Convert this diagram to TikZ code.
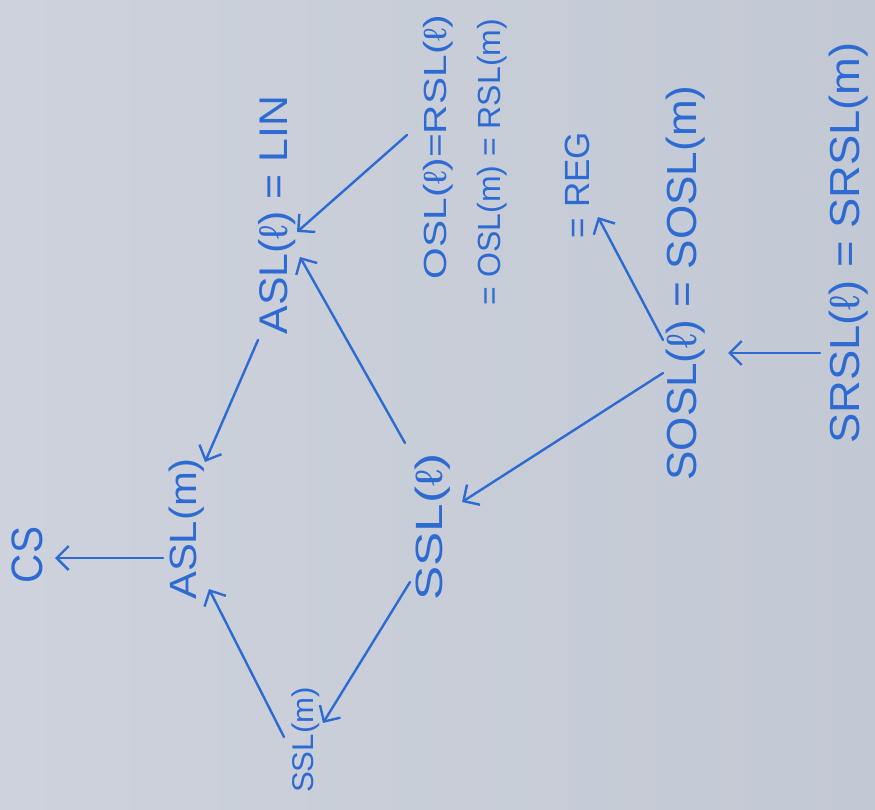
\documentclass[tikz,border=0pt]{standalone}
\usepackage{fontspec}
\setmainfont{Liberation Sans}
\usetikzlibrary{arrows.meta}
\definecolor{paper}{HTML}{CDD2DC}
\definecolor{paperdark}{HTML}{C3C9D4}
\definecolor{ink}{HTML}{2D6BD2}

\begin{document}
\begin{tikzpicture}[
    x=1pt, y=-1pt,
    hand/.style 2 args={rotate=90, inner sep=0pt, text=ink,
                 font=\fontsize{#1}{#1}\selectfont\addfontfeatures{FakeStretch=#2}},
    arr/.style={-{Straight Barb[length=12pt, width=24pt]}, ink,
                line width=2.4pt, line cap=round}
]
    % paper
    \path[use as bounding box] (0,0) rectangle (875,809);
    \shade[left color=paper, right color=paperdark] (0,0) rectangle (875,809);

    \node[hand={44}{0.92}] (cs)   at (27,555)  {CS};
    \node[hand={38}{1.1}]  (aslm) at (187,529) {ASL(m)};
    \node[hand={30}{1.04}] (sslm) at (306,740) {SSL(m)};
    \node[hand={38}{1.35}] (ssll) at (433,527) {SSL(ℓ)};
    \node[hand={40}{1.07}] (asll) at (277,215) {ASL(ℓ) = LIN};
    \node[hand={32}{1.27}] (osla) at (438,147) {OSL(ℓ)=RSL(ℓ)};
    \node[hand={32}{1.0}]  (oslb) at (492,162) {= OSL(m) = RSL(m)};
    \node[hand={35}{1.0}]  (reg)  at (577,185) {= REG};
    \node[hand={42}{1.05}] (sosl) at (686,283) {SOSL(ℓ) = SOSL(m)};
    \node[hand={42}{1.08}] (srsl) at (849,243) {SRSL(ℓ) = SRSL(m)};

    \draw[arr] ([shift={(-24,29)}]aslm.center) -- ([shift={(28,3)}]cs.center);
    \draw[arr] ([shift={(-22,-3)}]sslm.center) -- ([shift={(22,60)}]aslm.center);
    \draw[arr] ([shift={(-19,125)}]asll.center) -- ([shift={(18,-67)}]aslm.center);
    \draw[arr] ([shift={(-28,-84)}]ssll.center) -- ([shift={(23,42)}]asll.center);
    \draw[arr] ([shift={(-31,-12)}]osla.center) -- ([shift={(20,17)}]asll.center);
    \draw[arr] ([shift={(-23,55)}]ssll.center) -- ([shift={(17,-17)}]sslm.center);
    \draw[arr] ([shift={(-23,90)}]sosl.center) -- ([shift={(29,-25)}]ssll.center);
    \draw[arr] ([shift={(-23,57)}]sosl.center) -- ([shift={(21,32)}]reg.center);
    \draw[arr] ([shift={(-29,110)}]srsl.center) -- ([shift={(42,70)}]sosl.center);
\end{tikzpicture}
\end{document}
